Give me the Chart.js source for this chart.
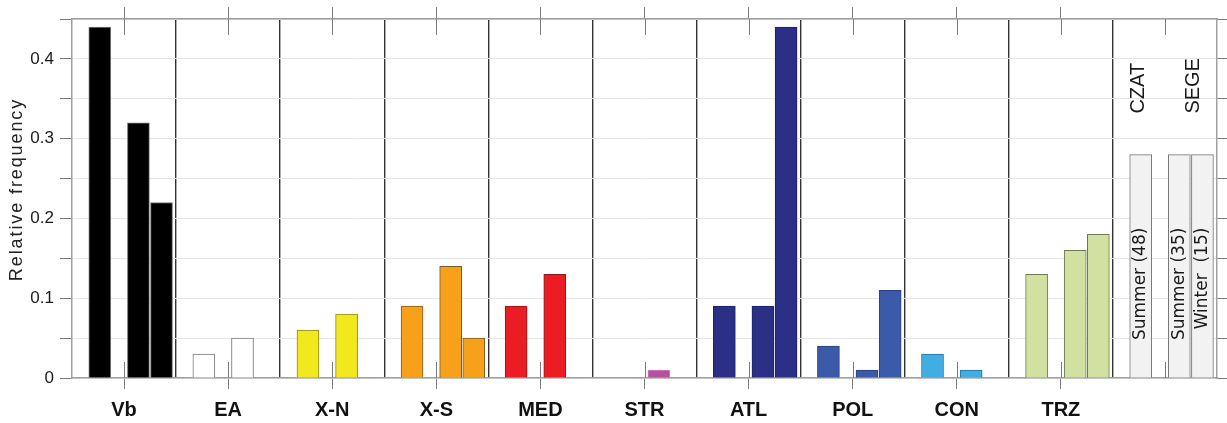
<!DOCTYPE html>
<html lang="en">

<head>
    <meta charset="UTF-8">
    <title>Relative frequency by type</title>
    <style>
        html,
        body {
            margin: 0;
            padding: 0;
            background: #fff;
        }

        #wrap {
            width: 1227px;
            height: 423px;
        }
    </style>
</head>

<body>
    <div id="wrap"><canvas id="canvas" width="1227" height="423"></canvas></div>

    <script src="https://cdn.jsdelivr.net/npm/chart.js@4.4.0/dist/chart.umd.min.js"></script>

    <script>
        // categories, one group per type, plus the key group at the end
        const categories = ['Vb', 'EA', 'X-N', 'X-S', 'MED', 'STR', 'ATL', 'POL', 'CON', 'TRZ'];

        // relative frequency per type
        const summerCzat = [0.44, 0.03, 0.06, 0.09, 0.09, 0, 0.09, 0.04, 0.03, 0.13];
        const summerSege = [0.32, 0.05, 0.08, 0.14, 0.13, 0.01, 0.09, 0.01, 0.01, 0.16];
        const winterSege = [0.22, 0, 0, 0.05, 0, 0, 0.44, 0.11, 0, 0.18];

        // the key bars
        const keyValue = 0.28;
        const keyLabels = ['Summer (48)', 'Summer (35)', 'Winter  (15)'];
        const keyStations = ['CZAT', 'SEGE'];

        const yTicks = [0, 0.1, 0.2, 0.3, 0.4];
        const yTitle = 'Relative frequency';

        const fills = ['#000000', '#ffffff', '#f2e81e', '#f7a11b', '#ec1c24', '#b9509f', '#2b2f85', '#3b5aaa', '#41aee3', '#d2e1a1', '#f2f2f2'];
        const edges = ['#777777', '#777777', '#8a8420', '#7a5a2a', '#8a1a1a', '#d77fc2', '#1e2260', '#27407e', '#2a6f95', '#6f7a55', '#777777'];

        // where each bar sits inside its group (0..1)
        const slotPos = [0.267, 0.638, 0.86];

        const nGroups = categories.length + 1;
        const centers = [];
        for (let i = 0; i < nGroups; i++) centers.push(i + 0.5);

        function makeData(values, slot) {
            const pts = values.map((v, i) => ({ x: i + slotPos[slot], y: v }));
            pts.push({ x: categories.length + slotPos[slot], y: keyValue });
            return pts;
        }

        const tickGray = '#7a7a7a';
        const axisGray = '#a0a0a0';

        const innerTicks = {
            id: 'innerTicks',
            beforeDatasetsDraw(chart) {
                const { ctx, chartArea, scales } = chart;
                ctx.save();
                ctx.strokeStyle = tickGray;
                ctx.lineWidth = 1;
                centers.forEach(c => {
                    const px = Math.round(scales.x.getPixelForValue(c)) + 0.5;
                    ctx.beginPath();
                    ctx.moveTo(px, chartArea.bottom);
                    ctx.lineTo(px, chartArea.bottom - 16);
                    ctx.moveTo(px, chartArea.top);
                    ctx.lineTo(px, chartArea.top + 16);
                    ctx.stroke();
                });
                ctx.restore();
            }
        };

        const textBits = {
            id: 'textBits',
            afterDatasetsDraw(chart) {
                const { ctx, scales, chartArea } = chart;
                const g = categories.length;
                ctx.save();
                ctx.fillStyle = '#1a1a1a';
                ctx.textBaseline = 'middle';
                ctx.textAlign = 'right';
                ctx.font = '17px "DejaVu Sans"';
                keyLabels.forEach((t, i) => {
                    const px = scales.x.getPixelForValue(g + slotPos[i]);
                    const py = scales.y.getPixelForValue(keyValue) + 73;
                    ctx.save();
                    ctx.translate(px, py);
                    ctx.rotate(-Math.PI / 2);
                    ctx.fillText(t, 0, 0);
                    ctx.restore();
                });
                ctx.font = '20px "Liberation Sans"';
                ctx.textAlign = 'left';
                const stationPos = [slotPos[0], (slotPos[1] + slotPos[2]) / 2];
                keyStations.forEach((t, i) => {
                    const px = scales.x.getPixelForValue(g + stationPos[i]) - 2 + i * 5;
                    const py = scales.y.getPixelForValue(keyValue) - 41;
                    ctx.save();
                    ctx.translate(px, py);
                    ctx.rotate(-Math.PI / 2);
                    ctx.fillText(t, 0, 0);
                    ctx.restore();
                });

                // y axis title, a bit spaced out like the original
                ctx.fillStyle = '#222';
                ctx.font = '18px "Liberation Sans"';
                ctx.textAlign = 'center';
                ctx.letterSpacing = '1.9px';
                ctx.translate(17, (chartArea.top + chartArea.bottom) / 2 - 9);
                ctx.rotate(-Math.PI / 2);
                ctx.fillText(yTitle, 0, 0);
                ctx.restore();
            }
        };

        const barSet = (label, values, slot) => ({
            label: label,
            data: makeData(values, slot),
            backgroundColor: fills,
            borderColor: edges,
            borderWidth: 1,
            grouped: false,
            barThickness: 22
        });

        const centerTickColor = c => (c.tick && c.tick.value > categories.length) ? 'rgba(0,0,0,0)' : tickGray;

        const config = {
            type: 'bar',
            data: {
                datasets: [
                    barSet('Summer CZAT', summerCzat, 0),
                    barSet('Summer SEGE', summerSege, 1),
                    barSet('Winter SEGE', winterSege, 2)
                ]
            },
            options: {
                responsive: false,
                animation: false,
                layout: { padding: 0 },
                plugins: {
                    legend: { display: false },
                    tooltip: { enabled: false }
                },
                scales: {
                    x: {
                        type: 'linear',
                        position: 'bottom',
                        offset: false,
                        min: 0,
                        max: nGroups,
                        afterBuildTicks: s => { s.ticks = centers.map(v => ({ value: v })); },
                        afterFit: s => { s.height = 45; },
                        ticks: {
                            autoSkip: false,
                            maxRotation: 0,
                            padding: 9,
                            color: '#111',
                            font: { family: '"Liberation Sans", Arial', size: 20, weight: 'bold' },
                            callback: (v, i) => categories[i] || ''
                        },
                        grid: {
                            offset: false,
                            drawOnChartArea: false,
                            tickLength: 11,
                            tickColor: centerTickColor
                        },
                        border: { color: axisGray, width: 1.5 }
                    },
                    xTop: {
                        type: 'linear',
                        position: 'top',
                        offset: false,
                        min: 0,
                        max: nGroups,
                        afterBuildTicks: s => { s.ticks = centers.map(v => ({ value: v })); },
                        afterFit: s => { s.height = 19; },
                        ticks: { display: false },
                        grid: {
                            offset: false,
                            drawOnChartArea: false,
                            tickLength: 12,
                            tickColor: centerTickColor
                        },
                        border: { color: axisGray, width: 1.5 }
                    },
                    xSep: {
                        type: 'linear',
                        position: 'top',
                        offset: false,
                        min: 0,
                        max: nGroups,
                        afterBuildTicks: s => {
                            const t = [];
                            for (let i = 1; i < nGroups; i++) t.push({ value: i });
                            s.ticks = t;
                        },
                        afterFit: s => { s.height = 0; },
                        ticks: { display: false },
                        grid: { offset: false, drawTicks: false, color: '#333', lineWidth: 1.4 },
                        border: { display: false }
                    },
                    y: {
                        position: 'left',
                        min: 0,
                        max: 0.45,
                        afterBuildTicks: s => {
                            const t = [];
                            for (let i = 0; i <= 9; i++) t.push({ value: i * 0.05 });
                            s.ticks = t;
                        },
                        afterFit: s => { s.width = 72; },
                        ticks: {
                            padding: 6,
                            color: '#1a1a1a',
                            font: { family: '"Liberation Sans", Arial', size: 17 },
                            callback: v => {
                                const k = yTicks.find(t => Math.abs(t - v) < 1e-6);
                                return k === undefined ? '' : String(k);
                            }
                        },
                        grid: { color: '#e6e6e6', lineWidth: 1, tickLength: 12, tickColor: tickGray },
                        border: { color: axisGray, width: 1.5 }
                    },
                    yRight: {
                        position: 'right',
                        min: 0,
                        max: 0.45,
                        afterBuildTicks: s => {
                            const t = [];
                            for (let i = 0; i <= 9; i++) t.push({ value: i * 0.05 });
                            s.ticks = t;
                        },
                        afterFit: s => { s.width = 10; },
                        ticks: { display: false },
                        grid: { drawOnChartArea: false, tickLength: 10, tickColor: tickGray },
                        border: { color: axisGray, width: 1.5 }
                    }
                }
            },
            plugins: [innerTicks, textBits]
        };

        new Chart(document.querySelector('#canvas'), config);
    </script>
</body>

</html>
